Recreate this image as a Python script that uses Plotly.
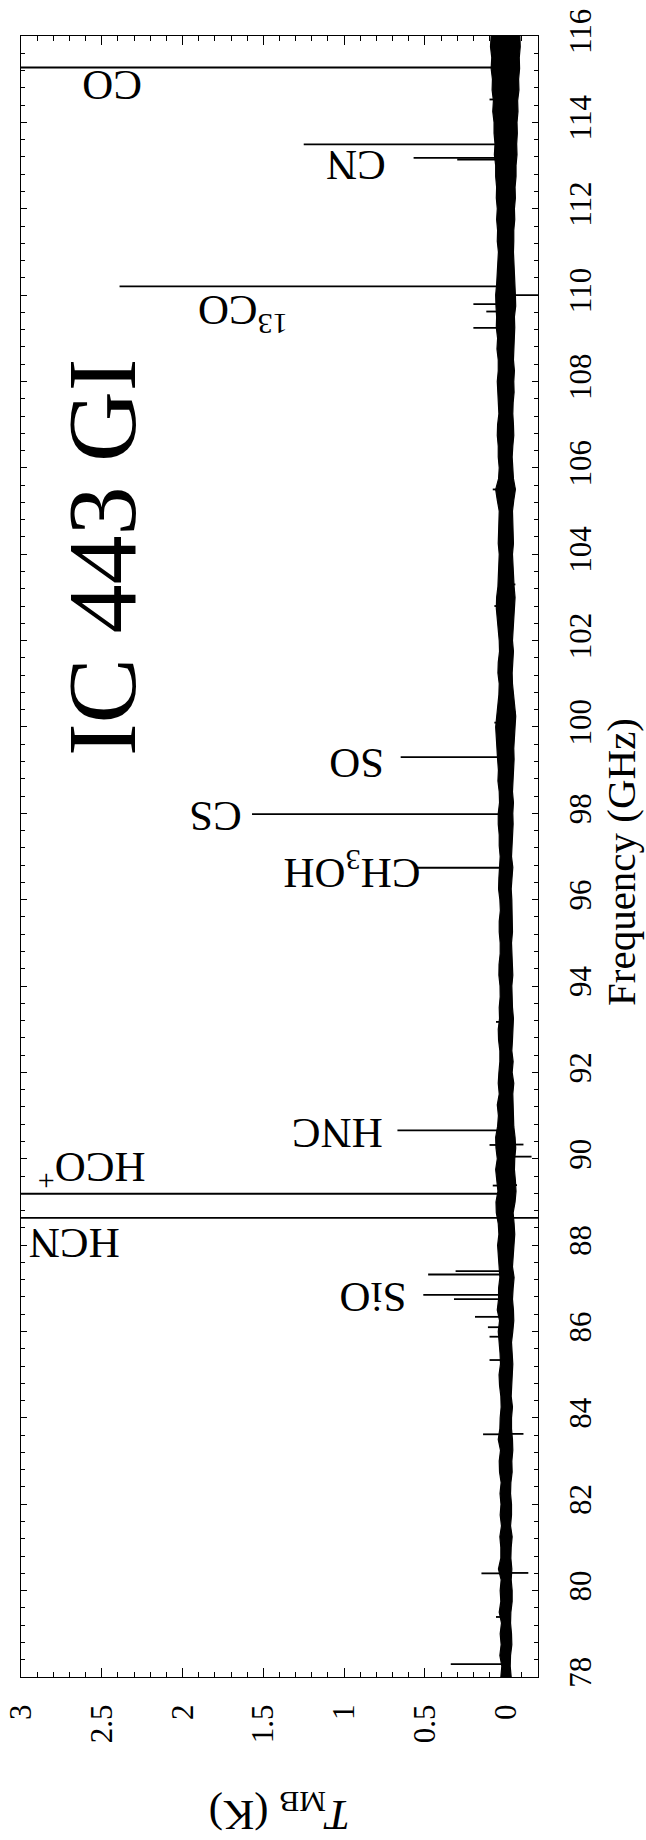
import plotly.graph_objects as go

# ---- spectrum data -------------------------------------------------------
# baseline noise envelope, sampled every 0.25 GHz (K)
env_freq = [78.00, 78.25, 78.50, 78.75, 79.00, 79.25, 79.50, 79.75,
            80.00, 80.25, 80.50, 80.75, 81.00, 81.25, 81.50, 81.75,
            82.00, 82.25, 82.50, 82.75, 83.00, 83.25, 83.50, 83.75,
            84.00, 84.25, 84.50, 84.75, 85.00, 85.25, 85.50, 85.75,
            86.00, 86.25, 86.50, 86.75, 87.00, 87.25, 87.50, 87.75,
            88.00, 88.25, 88.50, 88.75, 89.00, 89.25, 89.50, 89.75,
            90.00, 90.25, 90.50, 90.75, 91.00, 91.25, 91.50, 91.75,
            92.00, 92.25, 92.50, 92.75, 93.00, 93.25, 93.50, 93.75,
            94.00, 94.25, 94.50, 94.75, 95.00, 95.25, 95.50, 95.75,
            96.00, 96.25, 96.50, 96.75, 97.00, 97.25, 97.50, 97.75,
            98.00, 98.25, 98.50, 98.75, 99.00, 99.25, 99.50, 99.75,
            100.00, 100.25, 100.50, 100.75, 101.00, 101.25, 101.50, 101.75,
            102.00, 102.25, 102.50, 102.75, 103.00, 103.25, 103.50, 103.75,
            104.00, 104.25, 104.50, 104.75, 105.00, 105.25, 105.50, 105.75,
            106.00, 106.25, 106.50, 106.75, 107.00, 107.25, 107.50, 107.75,
            108.00, 108.25, 108.50, 108.75, 109.00, 109.25, 109.50, 109.75,
            110.00, 110.25, 110.50, 110.75, 111.00, 111.25, 111.50, 111.75,
            112.00, 112.25, 112.50, 112.75, 113.00, 113.25, 113.50, 113.75,
            114.00, 114.25, 114.50, 114.75, 115.00, 115.25, 115.50, 115.75,
            116.00]
env_upper = [0.030, 0.024, 0.036, 0.028, 0.034, 0.026, 0.040, 0.030,
             0.034, 0.028, 0.045, 0.030, 0.030, 0.036, 0.026, 0.034,
             0.029, 0.035, 0.028, 0.038, 0.040, 0.032, 0.046, 0.036,
             0.034, 0.028, 0.030, 0.038, 0.041, 0.032, 0.035, 0.042,
             0.046, 0.038, 0.052, 0.044, 0.044, 0.036, 0.040, 0.048,
             0.050, 0.042, 0.046, 0.058, 0.060, 0.048, 0.055, 0.062,
             0.052, 0.060, 0.062, 0.050, 0.045, 0.052, 0.040, 0.046,
             0.042, 0.036, 0.036, 0.044, 0.046, 0.038, 0.040, 0.034,
             0.035, 0.042, 0.041, 0.034, 0.034, 0.040, 0.040, 0.033,
             0.036, 0.044, 0.042, 0.036, 0.034, 0.040, 0.040, 0.046,
             0.046, 0.038, 0.040, 0.048, 0.045, 0.050, 0.052, 0.058,
             0.062, 0.054, 0.050, 0.042, 0.040, 0.048, 0.046, 0.038,
             0.040, 0.048, 0.052, 0.058, 0.056, 0.048, 0.046, 0.040,
             0.040, 0.046, 0.044, 0.038, 0.040, 0.052, 0.062, 0.044,
             0.040, 0.046, 0.046, 0.052, 0.050, 0.042, 0.045, 0.050,
             0.052, 0.046, 0.046, 0.054, 0.050, 0.058, 0.056, 0.060,
             0.062, 0.056, 0.052, 0.046, 0.045, 0.052, 0.050, 0.056,
             0.052, 0.058, 0.056, 0.062, 0.062, 0.070, 0.066, 0.072,
             0.072, 0.080, 0.076, 0.084, 0.082, 0.090, 0.086, 0.094,
             0.090]
env_lower = [-0.034, -0.028, -0.030, -0.038, -0.036, -0.030, -0.032, -0.040,
             -0.040, -0.034, -0.038, -0.032, -0.034, -0.040, -0.030, -0.036,
             -0.036, -0.030, -0.032, -0.040, -0.038, -0.044, -0.042, -0.036,
             -0.036, -0.042, -0.034, -0.038, -0.038, -0.044, -0.040, -0.036,
             -0.044, -0.050, -0.048, -0.042, -0.046, -0.052, -0.042, -0.046,
             -0.048, -0.056, -0.052, -0.046, -0.058, -0.064, -0.060, -0.054,
             -0.056, -0.062, -0.058, -0.050, -0.048, -0.044, -0.044, -0.050,
             -0.040, -0.046, -0.038, -0.042, -0.044, -0.048, -0.042, -0.038,
             -0.038, -0.044, -0.040, -0.036, -0.036, -0.042, -0.042, -0.038,
             -0.038, -0.034, -0.040, -0.044, -0.036, -0.040, -0.042, -0.046,
             -0.044, -0.048, -0.042, -0.046, -0.046, -0.052, -0.050, -0.056,
             -0.058, -0.062, -0.054, -0.048, -0.042, -0.040, -0.044, -0.048,
             -0.042, -0.046, -0.050, -0.056, -0.058, -0.052, -0.048, -0.044,
             -0.042, -0.048, -0.046, -0.040, -0.042, -0.050, -0.060, -0.048,
             -0.042, -0.040, -0.044, -0.050, -0.048, -0.044, -0.046, -0.052,
             -0.050, -0.054, -0.048, -0.052, -0.052, -0.056, -0.054, -0.062,
             -0.060, -0.056, -0.054, -0.050, -0.048, -0.050, -0.050, -0.056,
             -0.054, -0.060, -0.058, -0.064, -0.064, -0.070, -0.068, -0.072,
             -0.070, -0.076, -0.074, -0.082, -0.080, -0.086, -0.084, -0.090,
             -0.088]

# narrow spectral features: frequency (GHz) and peak main-beam temperature (K)
line_freq = [78.30, 79.39, 80.40, 80.41, 83.62, 83.63, 85.34, 85.88, 86.10, 86.34,
             86.75, 86.85, 87.32, 87.40, 88.63, 88.63, 89.19, 89.38, 89.39, 90.05,
             90.32, 90.33, 90.66, 93.17, 96.74, 97.98, 99.30, 100.10, 100.35, 102.80,
             103.30, 105.50, 105.52, 109.24, 109.62, 109.79, 110.00, 110.20, 113.14, 113.18,
             113.49, 114.53, 115.27]
line_peak = [0.34, 0.06, 0.15, -0.14, 0.14, -0.11, 0.10, 0.10, 0.11, 0.19,
             0.32, 0.51, 0.48, 0.31, 4.00, -0.35, 4.00, 0.08, -0.07, -0.16,
             0.10, -0.11, 0.67, 0.06, 0.55, 1.57, 0.65, 0.07, -0.06, 0.07,
             -0.06, 0.08, -0.06, 0.20, 0.12, 0.20, -0.30, 2.39, 0.30, 0.57,
             1.25, 0.10, 4.00]

# molecule labels
mol_names = ["CO", "CN", "<sup>13</sup>CO", "SO", "CS", "CH<sub>3</sub>OH",
             "HNC", "HCO<sup>+</sup>", "HCN", "SiO"]
mol_label_T = [2.44, 0.93, 1.63, 0.92, 1.80, 0.95, 1.045, 2.565, 2.67, 0.82]
mol_label_f = [114.84, 113.00, 109.56, 99.14, 97.94, 96.70, 90.59, 89.70, 88.04, 86.80]

source_name = "IC 443 GI"
freq_ticks = list(range(78, 117, 2))
temp_ticks = [0, 0.5, 1, 1.5, 2, 2.5, 3]
temp_tick_text = ["0", "0.5", "1", "1.5", "2", "2.5", "3"]

SERIF = "Liberation Serif, Times New Roman, serif"

fig = go.Figure()

# baseline noise band
fig.add_trace(go.Scatter(x=env_lower, y=env_freq, mode="lines",
                         line=dict(color="black", width=1.2), showlegend=False,
                         hoverinfo="skip"))
fig.add_trace(go.Scatter(x=env_upper, y=env_freq, mode="lines",
                         line=dict(color="black", width=1.2), fill="tonextx",
                         fillcolor="black", showlegend=False, hoverinfo="skip"))

# spectral lines drawn from zero to their peak
seg_x, seg_y = [], []
for f, t in zip(line_freq, line_peak):
    seg_x += [0, t, None]
    seg_y += [f, f, None]
fig.add_trace(go.Scatter(x=seg_x, y=seg_y, mode="lines",
                         line=dict(color="black", width=1.8), showlegend=False,
                         hoverinfo="skip"))

# labels (the whole chart is turned on its side)
for name, t, f in zip(mol_names, mol_label_T, mol_label_f):
    fig.add_annotation(x=t, y=f, xref="x", yref="y", text=name, showarrow=False,
                       textangle=180, font=dict(family=SERIF, size=43, color="black"),
                       xanchor="center", yanchor="middle")

fig.add_annotation(x=2.50, y=103.93, xref="x", yref="y", text=source_name,
                   showarrow=False, textangle=-90,
                   font=dict(family=SERIF, size=98, color="black"),
                   xanchor="center", yanchor="middle")

# axis titles
fig.add_annotation(x=0.5, y=-(1812 - 1677) / 1641, xref="paper", yref="paper",
                   text="<i>T</i><sub>MB</sub> (K)", showarrow=False, textangle=180,
                   font=dict(family=SERIF, size=43, color="black"),
                   xanchor="center", yanchor="middle")
fig.add_annotation(x=1 + (621 - 538) / 517, y=1 - (862 - 36) / 1641,
                   xref="paper", yref="paper", text="Frequency (GHz)",
                   showarrow=False, textangle=-90,
                   font=dict(family=SERIF, size=41, color="black"),
                   xanchor="center", yanchor="middle")

axis_common = dict(showline=True, linecolor="black", linewidth=1.3, mirror="allticks",
                   ticks="inside", tickcolor="black", tickwidth=1, showgrid=False,
                   zeroline=False, tickangle=-90,
                   tickfont=dict(family=SERIF, size=31, color="black"))

fig.update_xaxes(range=[3, -0.2], tickvals=temp_ticks, ticktext=temp_tick_text,
                 ticklen=9, ticklabelstandoff=14,
                 minor=dict(dtick=0.1, ticklen=5, ticks="inside", tickcolor="black",
                            showgrid=False),
                 **axis_common)
fig.update_yaxes(range=[78, 116], tickvals=freq_ticks, side="right",
                 ticklen=6, ticklabelstandoff=15,
                 minor=dict(dtick=0.4, tick0=78, ticklen=4, ticks="inside",
                            tickcolor="black", showgrid=False),
                 **axis_common)

fig.update_layout(width=646, height=1840,
                  margin=dict(l=21, r=108, t=36, b=163, autoexpand=False),
                  paper_bgcolor="white", plot_bgcolor="white",
                  showlegend=False)

fig.write_html("out.html")
